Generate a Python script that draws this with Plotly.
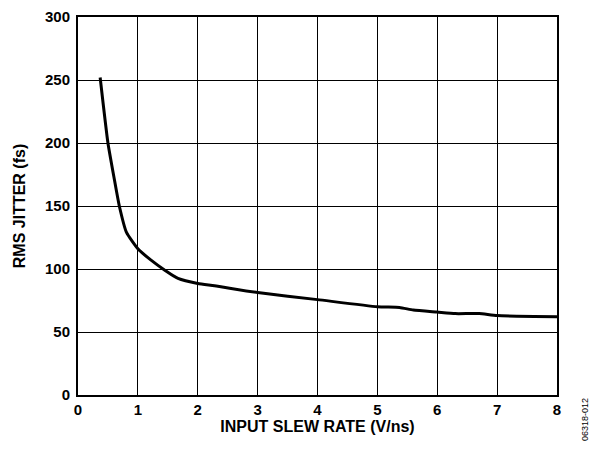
import plotly.graph_objects as go

slew_rate = [0.37, 0.5, 0.6, 0.69, 0.81, 1.0, 1.22, 1.45, 1.67, 2.0, 2.28,
             3.0, 4.0, 5.0, 5.37, 5.6, 6.0, 6.3, 6.7, 7.0, 8.0]
rms_jitter = [252, 200, 173, 150, 129, 116, 107, 99, 92.5, 88.5, 86.7,
              81.3, 75.7, 70, 69.5, 67.4, 65.8, 64.6, 64.6, 63, 62.2]
x_ticks = [0, 1, 2, 3, 4, 5, 6, 7, 8]
y_ticks = [0, 50, 100, 150, 200, 250, 300]

FONT = "Arial, Liberation Sans, sans-serif"

fig = go.Figure()
fig.add_trace(go.Scatter(
    x=slew_rate, y=rms_jitter, mode="lines",
    line=dict(color="black", width=3, shape="spline", smoothing=0.5),
    showlegend=False, hoverinfo="skip",
))

fig.update_layout(
    width=589, height=446,
    margin=dict(l=70, r=40, t=9, b=59),
    paper_bgcolor="white", plot_bgcolor="white",
    font=dict(family=FONT, color="black"),
    xaxis=dict(
        range=[0, 8], tickvals=x_ticks, ticktext=[str(v) for v in x_ticks],
        showgrid=True, gridcolor="black", gridwidth=1,
        showline=True, linecolor="black", linewidth=2, mirror=True,
        ticks="", ticklabelstandoff=0, automargin=False,
        ticklabeloverflow="allow",
        tickfont=dict(family=FONT, size=15, color="black", weight="bold"),
        title=dict(text="<b>INPUT SLEW RATE (V/ns)</b>", standoff=4,
                   font=dict(family=FONT, size=16, color="black")),
        zeroline=False, fixedrange=True,
    ),
    yaxis=dict(
        range=[0, 300], tickvals=y_ticks, ticktext=[str(v) for v in y_ticks],
        showgrid=True, gridcolor="black", gridwidth=1,
        showline=True, linecolor="black", linewidth=2, mirror=True,
        ticks="", ticklabelstandoff=3, automargin=False,
        ticklabeloverflow="allow",
        tickfont=dict(family=FONT, size=15, color="black", weight="bold"),
        title=dict(text="<b>RMS JITTER (fs)</b>", standoff=15,
                   font=dict(family=FONT, size=16, color="black")),
        zeroline=False, fixedrange=True,
    ),
    annotations=[dict(
        text="06318-012", xref="paper", yref="paper",
        x=1.0, y=0.0, xshift=28, yshift=-25, xanchor="center", yanchor="middle",
        textangle=-90, showarrow=False,
        font=dict(family=FONT, size=9, color="black"),
    )],
)

fig.write_html("out.html")
